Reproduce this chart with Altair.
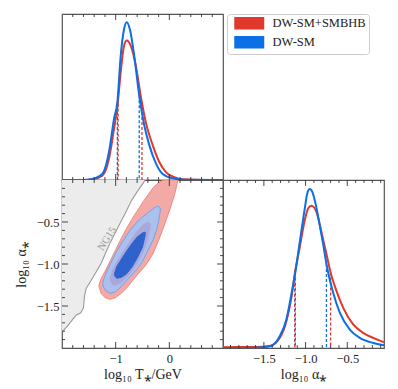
import altair as alt
import pandas as pd

# ---------------- data ----------------
SERIES = ["DW-SM+SMBHB", "DW-SM"]
COLORS = ["#e0382b", "#0b6fe6"]

# marginal of log10 T*  (x = log10 T*/GeV, y = normalised density)
red_T_x = [-2.0, -1.6, -1.437, -1.25, -1.124, -1.03, -0.968, -0.906, -0.843, -0.794,
           -0.72, -0.625, -0.53, -0.44, -0.31, -0.19, -0.06, 0.1, 0.25, 0.5, 1.0]
red_T_y = [0.0, 0.0, 0.004, 0.026, 0.13, 0.31, 0.44, 0.65, 0.81, 0.84,
           0.81, 0.69, 0.50, 0.35, 0.21, 0.11, 0.046, 0.016, 0.004, 0.001, 0.0]
blue_T_x = [-2.0, -1.6, -1.437, -1.25, -1.124, -1.03, -0.968, -0.906, -0.843, -0.794,
            -0.73, -0.655, -0.561, -0.467, -0.373, -0.25, -0.124, 0.064, 0.3, 1.0]
blue_T_y = [0.0, 0.0, 0.006, 0.036, 0.17, 0.37, 0.47, 0.75, 0.91, 0.95,
            0.90, 0.75, 0.51, 0.33, 0.21, 0.10, 0.036, 0.01, 0.001, 0.0]
red_T_q = [-0.955, -0.51]
red_T_qh = [0.46, 0.47]
blue_T_q = [-0.968, -0.561]
blue_T_qh = [0.47, 0.51]

# marginal of log10 alpha*
red_A_x = [-1.99, -1.6, -1.43, -1.31, -1.23, -1.17, -1.13, -1.07, -1.01, -0.97, -0.93,
           -0.87, -0.81, -0.75, -0.70, -0.63, -0.55, -0.43, -0.31, -0.19, -0.06]
red_A_y = [0.005, 0.006, 0.012, 0.06, 0.16, 0.30, 0.44, 0.60, 0.76, 0.83, 0.846,
           0.81, 0.69, 0.56, 0.45, 0.34, 0.24, 0.14, 0.09, 0.06, 0.034]
blue_A_x = [-1.99, -1.6, -1.43, -1.31, -1.23, -1.17, -1.123, -1.07, -1.01, -0.98, -0.95,
            -0.92, -0.89, -0.83, -0.79, -0.75, -0.67, -0.59, -0.47, -0.35, -0.19, -0.06]
blue_A_y = [0.0, 0.002, 0.01, 0.07, 0.17, 0.32, 0.45, 0.63, 0.83, 0.92, 0.946,
            0.93, 0.88, 0.73, 0.62, 0.50, 0.33, 0.21, 0.11, 0.06, 0.03, 0.016]
red_A_q = [-1.13, -0.70]
red_A_qh = [0.44, 0.45]
blue_A_q = [-1.123, -0.75]
blue_A_qh = [0.45, 0.50]

# 2D credible regions: for each log10 T*, lower / upper log10 alpha*
red_out_T = [-1.31, -1.27, -1.2, -1.1, -1.0, -0.9, -0.8, -0.7, -0.6, -0.5, -0.4, -0.3, -0.2, -0.1, 0.0, 0.1, 0.16]
red_out_lo = [-1.27, -1.35, -1.40, -1.42, -1.40, -1.35, -1.29, -1.21, -1.13, -1.06, -0.98, -0.87, -0.72, -0.55, -0.37, -0.17, 0.0]
red_out_hi = [-1.25, -1.17, -1.09, -0.96, -0.83, -0.70, -0.58, -0.47, -0.37, -0.27, -0.18, -0.09, -0.03, 0.0, 0.0, 0.0, 0.0]

blue_out_T = [-1.24, -1.2, -1.1, -1.0, -0.9, -0.8, -0.7, -0.6, -0.5, -0.4, -0.3, -0.22, -0.17]
blue_out_lo = [-1.25, -1.31, -1.35, -1.33, -1.27, -1.20, -1.13, -1.06, -0.97, -0.84, -0.71, -0.56, -0.38]
blue_out_hi = [-1.22, -1.14, -1.00, -0.87, -0.76, -0.66, -0.57, -0.50, -0.44, -0.39, -0.34, -0.31, -0.33]

red_in_T = [-1.1, -1.05, -1.0, -0.9, -0.8, -0.7, -0.6, -0.5, -0.4, -0.36]
red_in_lo = [-1.20, -1.25, -1.25, -1.22, -1.16, -1.09, -0.99, -0.87, -0.70, -0.56]
red_in_hi = [-1.17, -1.07, -1.00, -0.90, -0.80, -0.70, -0.61, -0.54, -0.50, -0.52]

blue_in_T = [-1.02, -0.98, -0.9, -0.8, -0.7, -0.6, -0.5, -0.45]
blue_in_lo = [-1.14, -1.17, -1.16, -1.12, -1.04, -0.93, -0.80, -0.66]
blue_in_hi = [-1.11, -1.03, -0.95, -0.85, -0.76, -0.68, -0.63, -0.62]

# NG15 excluded region boundary
ng_T = [-2.0, -1.9, -1.8, -1.74, -1.65, -1.6, -1.58, -1.55, -1.46, -1.37, -1.27, -1.12, -0.93, -0.8, -0.71, -0.59, -0.49, -0.45]
ng_A = [-1.81, -1.74, -1.66, -1.61, -1.58, -1.52, -1.38, -1.29, -1.20, -1.10, -0.99, -0.77, -0.53, -0.37, -0.25, -0.13, -0.04, 0.0]
ng_label = ["NG15"]
ng_label_T = [-1.16]
ng_label_A = [-0.70]

# axis ticks
T_major = [-1, 0]
T_minor = [-1.8, -1.6, -1.4, -1.2, -0.8, -0.6, -0.4, -0.2, 0.2, 0.4, 0.6, 0.8]
A_major = [-1.5, -1.0, -0.5]
A_minor = [-1.9, -1.8, -1.7, -1.6, -1.4, -1.3, -1.2, -1.1, -0.9, -0.8, -0.7, -0.6, -0.4, -0.3, -0.2, -0.1]

# ---------------- layout / style ----------------
W = 161
H_TOP = 166
H_BOT = 168
FONT = "Liberation Serif"
TICK_COLOR = "#333333"
MAJ, MIN = 6, 3

T_dom = [-2.0, 1.0]
A_dom = [-2.0, 0.0]
A_dom_marg = [-1.99, -0.06]

# legend patch: a 30 x 12 px block built from closely spaced 1px strokes
PATCH_ROWS = [-5.5, -4.5, -3.5, -2.5, -1.5, -0.5, 0.5, 1.5, 2.5, 3.5, 4.5, 5.5]
PATCH_PATH = "".join(f"M-2,{r}H28" for r in PATCH_ROWS)

color_scale = alt.Scale(domain=SERIES, range=COLORS)
legend = alt.Legend(
    title=None, orient="none", legendX=165, legendY=0,
    symbolType=PATCH_PATH, symbolSize=4, symbolStrokeWidth=1.3,
    labelFont=FONT, labelFontSize=12.5, labelColor="#222222", labelOffset=30,
    rowPadding=2, padding=3, fillColor="white", strokeColor="#cccccc",
    cornerRadius=3, labelLimit=300, symbolOpacity=1,
)


def x_ticks(values, scale, axis, side, length, H):
    df = pd.DataFrame({"v": values})
    if side == "top":
        yy = dict(y=alt.value(0), y2=alt.value(length))
    else:
        yy = dict(y=alt.value(H), y2=alt.value(H - length))
    return alt.Chart(df).mark_rule(color=TICK_COLOR, strokeWidth=0.9).encode(
        x=alt.X("v:Q", scale=scale, axis=axis), **yy)


def y_ticks(values, scale, axis, side, length, W_):
    df = pd.DataFrame({"v": values})
    if side == "left":
        xx = dict(x=alt.value(0), x2=alt.value(length))
    else:
        xx = dict(x=alt.value(W_), x2=alt.value(W_ - length))
    return alt.Chart(df).mark_rule(color=TICK_COLOR, strokeWidth=0.9).encode(
        y=alt.Y("v:Q", scale=scale, axis=axis), **xx)


def marginal(red_x, red_y, blue_x, blue_y, rq, rqh, bq, bqh, xscale, xaxis, H, majors, minors):
    dens = pd.DataFrame({
        "x": red_x + blue_x,
        "d": red_y + blue_y,
        "series": [SERIES[0]] * len(red_x) + [SERIES[1]] * len(blue_x),
    })
    yscale = alt.Scale(domain=[0, 1])
    lines = alt.Chart(dens).mark_line(strokeWidth=2, interpolate="monotone", clip=True).encode(
        x=alt.X("x:Q", scale=xscale, axis=xaxis),
        y=alt.Y("d:Q", scale=yscale, axis=None),
        color=alt.Color("series:N", scale=color_scale, legend=legend),
    )
    layers = []
    for q, qh, col in ((rq, rqh, COLORS[0]), (bq, bqh, COLORS[1])):
        qdf = pd.DataFrame({"x": q, "d": qh})
        layers.append(alt.Chart(qdf).mark_rule(strokeDash=[3, 2], strokeWidth=1.3, color=col).encode(
            x=alt.X("x:Q", scale=xscale, axis=xaxis),
            y=alt.Y("d:Q", scale=yscale, axis=None),
            y2=alt.datum(0),
        ))
    layers.append(lines)
    layers += [
        x_ticks(majors, xscale, xaxis, "top", MAJ, H),
        x_ticks(minors, xscale, xaxis, "top", MIN, H),
        x_ticks(majors, xscale, xaxis, "bottom", MAJ, H),
        x_ticks(minors, xscale, xaxis, "bottom", MIN, H),
    ]
    return alt.layer(*layers).properties(width=W, height=H)


# ---------- top-left: T* marginal ----------
T_scale = alt.Scale(domain=T_dom, nice=False, zero=False)
top_left = marginal(red_T_x, red_T_y, blue_T_x, blue_T_y,
                    red_T_q, red_T_qh, blue_T_q, blue_T_qh,
                    T_scale, None, H_TOP, T_major, T_minor)

# ---------- bottom-right: alpha* marginal ----------
Am_scale = alt.Scale(domain=A_dom_marg, nice=False, zero=False)
Am_axis = alt.Axis(values=A_major, format=".1f", ticks=False, domain=False, grid=False,
                   labelPadding=4, title="log₁₀ α⁎", titlePadding=3)
bottom_right = marginal(red_A_x, red_A_y, blue_A_x, blue_A_y,
                        red_A_q, red_A_qh, blue_A_q, blue_A_qh,
                        Am_scale, Am_axis, H_BOT, A_major, A_minor)

# ---------- bottom-left: 2D ----------
A_scale = alt.Scale(domain=A_dom, nice=False, zero=False)
T_axis = alt.Axis(values=T_major, format="d", ticks=False, domain=False, grid=False,
                  labelPadding=4, title="log₁₀ T⁎/GeV", titlePadding=3)
A_axis = alt.Axis(values=A_major, format=".1f", ticks=False, domain=False, grid=False,
                  labelPadding=3, title="log₁₀ α⁎", titlePadding=8)


def region(Tv, lo, hi, fill, stroke):
    df = pd.DataFrame({"T": Tv, "lo": lo, "hi": hi})
    return alt.Chart(df).mark_area(fill=fill, stroke=stroke, strokeWidth=1, clip=True,
                                   opacity=1).encode(
        x=alt.X("T:Q", scale=T_scale, axis=T_axis),
        y=alt.Y("lo:Q", scale=A_scale, axis=A_axis),
        y2="hi:Q",
    )


ng_df = pd.DataFrame({"T": ng_T, "A": ng_A})
ng_area = alt.Chart(ng_df).mark_area(color="#ececec", clip=True).encode(
    x=alt.X("T:Q", scale=T_scale, axis=T_axis),
    y=alt.Y("A:Q", scale=A_scale, axis=A_axis),
    y2=alt.datum(0),
)
ng_line = alt.Chart(ng_df).mark_line(color="#9a9a9a", strokeWidth=1.1, clip=True).encode(
    x=alt.X("T:Q", scale=T_scale, axis=T_axis),
    y=alt.Y("A:Q", scale=A_scale, axis=A_axis),
)
ng_text = alt.Chart(pd.DataFrame({"T": ng_label_T, "A": ng_label_A, "t": ng_label})).mark_text(
    angle=302, font=FONT, fontSize=10.5, color="#9a9a9a").encode(
    x=alt.X("T:Q", scale=T_scale, axis=T_axis),
    y=alt.Y("A:Q", scale=A_scale, axis=A_axis),
    text="t:N",
)

bottom_left = alt.layer(
    ng_area, ng_line, ng_text,
    region(red_out_T, red_out_lo, red_out_hi, "#f3aaa6", "#ec8a84"),
    region(blue_out_T, blue_out_lo, blue_out_hi, "#abc0ec", "#7d9fe4"),
    region(red_in_T, red_in_lo, red_in_hi, "#a9a8dd", "#a9a8dd"),
    region(blue_in_T, blue_in_lo, blue_in_hi, "#2f62cc", "#2f62cc"),
    x_ticks(T_major, T_scale, T_axis, "top", MAJ, H_BOT),
    x_ticks(T_minor, T_scale, T_axis, "top", MIN, H_BOT),
    x_ticks(T_major, T_scale, T_axis, "bottom", MAJ, H_BOT),
    x_ticks(T_minor, T_scale, T_axis, "bottom", MIN, H_BOT),
    y_ticks(A_major, A_scale, A_axis, "left", MAJ, W),
    y_ticks(A_minor, A_scale, A_axis, "left", MIN, W),
    y_ticks(A_major, A_scale, A_axis, "right", MAJ, W),
    y_ticks(A_minor, A_scale, A_axis, "right", MIN, W),
).properties(width=W, height=H_BOT)

bottom = alt.hconcat(bottom_left, bottom_right, spacing=0, bounds="flush")
chart = alt.vconcat(top_left, bottom, spacing=0, bounds="flush").properties(
    padding={"left": 5, "top": 4, "right": 5, "bottom": 5}
).configure_view(
    stroke="#555555", strokeWidth=1.2
).configure_axis(
    labelFont=FONT, labelFontSize=12.5, labelColor="#222222",
    titleFont=FONT, titleFontSize=14, titleColor="#222222", titleFontWeight="normal",
)

chart.save("out.html", embed_options={"renderer": "svg", "actions": False})
